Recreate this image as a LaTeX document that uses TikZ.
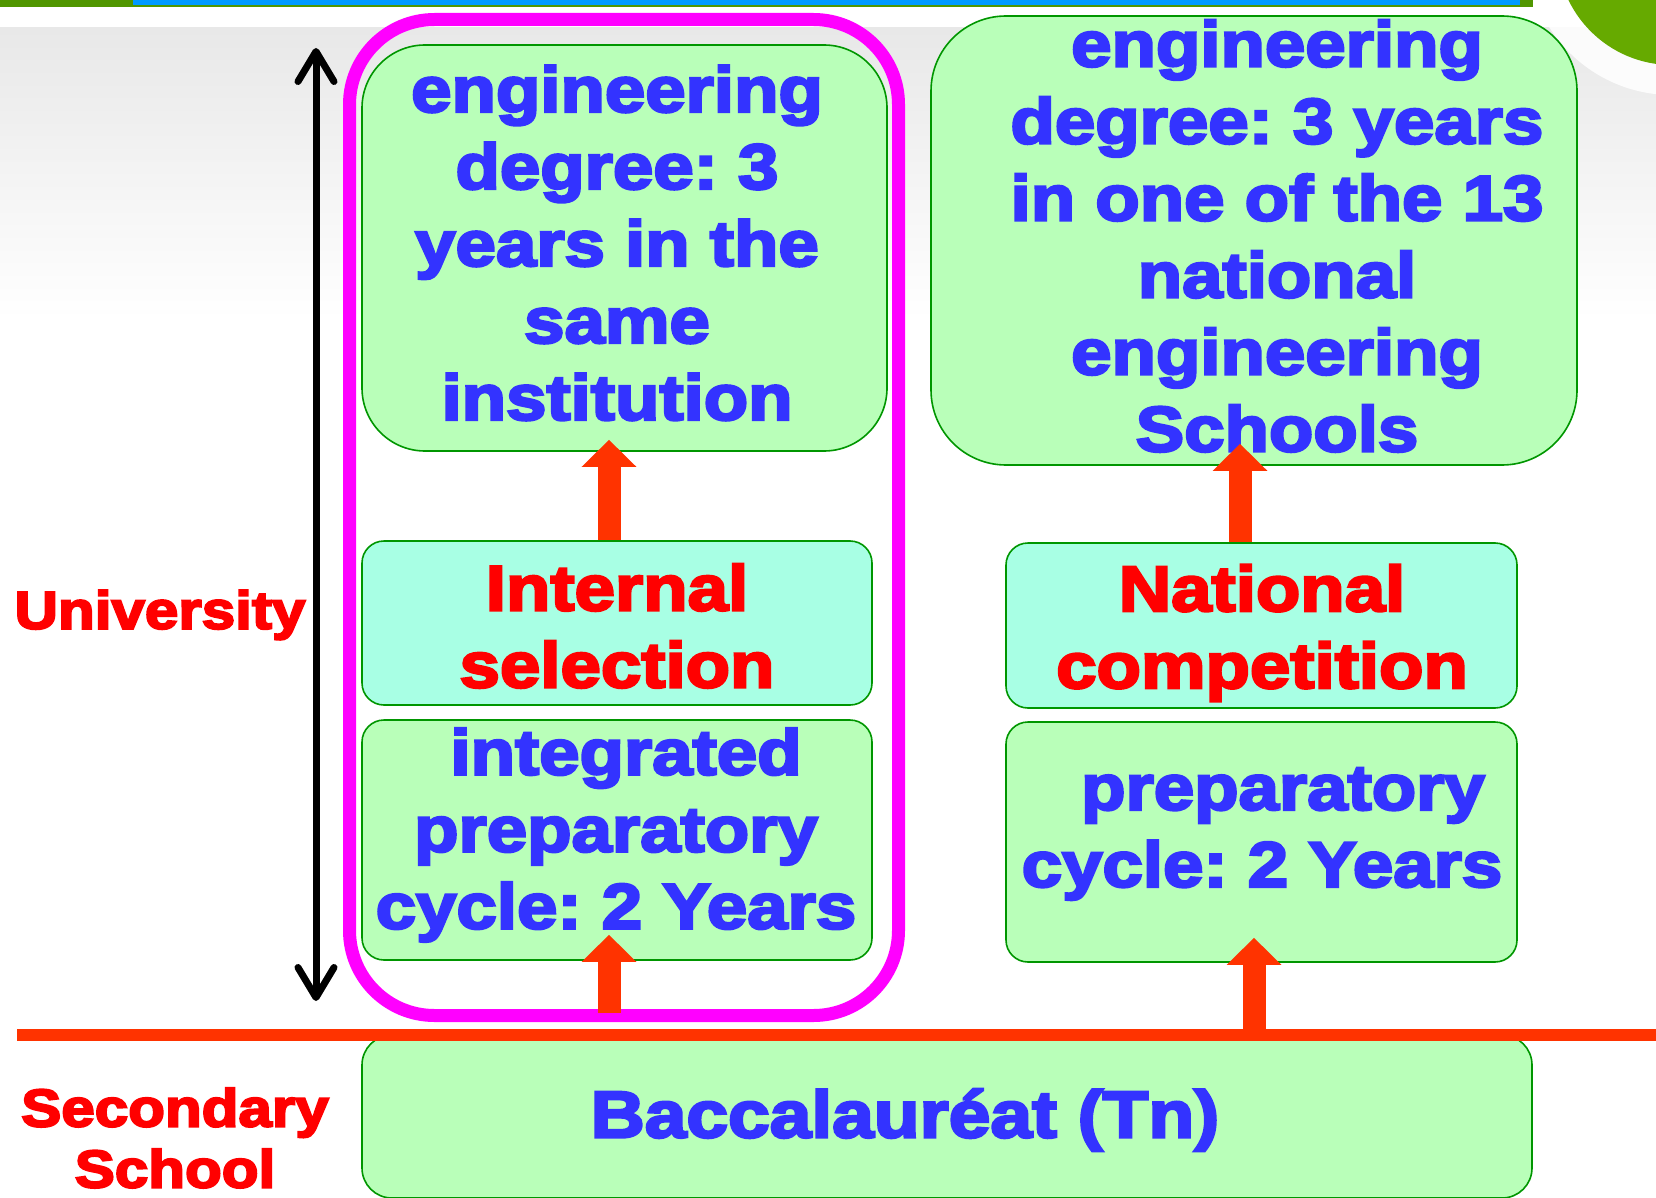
\documentclass[tikz,border=0pt]{standalone}
\usepackage{fontspec}
\setmainfont{Liberation Sans}[BoldFeatures={FakeStretch=1.135,FakeBold=4}]
\usetikzlibrary{arrows.meta}
\definecolor{boxgreen}{RGB}{185,255,185}
\definecolor{boxcyan}{RGB}{168,255,228}
\definecolor{bordergreen}{RGB}{0,150,0}
\definecolor{txtblue}{RGB}{51,51,255}
\definecolor{txtred}{RGB}{255,0,0}
\definecolor{arrowred}{RGB}{255,51,0}
\definecolor{magentaC}{RGB}{255,0,255}
\definecolor{bargreen}{RGB}{80,150,0}
\definecolor{barblue}{RGB}{0,153,255}
\definecolor{ballgreen}{RGB}{102,170,0}
\definecolor{bggray}{RGB}{232,232,232}
\tikzset{
  gbox/.style={draw=bordergreen, line width=1.6pt, fill=boxgreen, inner sep=0pt, rectangle},
  cbox/.style={gbox, fill=boxcyan},
  bluetxt/.style={text=txtblue, align=center, inner sep=0pt, font=\frenchspacing\bfseries\fontsize{64}{77}\selectfont},
  redtxt/.style={text=txtred, align=center, inner sep=0pt, font=\frenchspacing\bfseries\fontsize{64}{77}\selectfont},
  sidetxt/.style={text=txtred, align=center, inner sep=0pt, font=\frenchspacing\bfseries\fontsize{53}{61}\selectfont},
  fatarrow/.style={draw=arrowred, line width=23pt, -{Triangle[length=27pt,width=53pt]}},
  barbtip/.tip={Straight Barb[length=30pt,width=36pt,line cap=round,round]},
}
\begin{document}
\begin{tikzpicture}[x=1pt,y=-1pt]
\useasboundingbox (0,0) rectangle (1656,1198);
% background
\fill[white] (0,0) rectangle (1656,1198);
\shade[top color=bggray, bottom color=white] (0,28) rectangle (1656,320);
% top bar
\fill[bargreen] (0,0) rectangle (1533,7);
\fill[barblue] (133,0) rectangle (1520,5);
% corner ball
\fill[white, opacity=0.85] (1672,-50) circle (145);
\fill[ballgreen] (1672,-50) circle (115);

% magenta frame
\draw[magentaC, line width=13pt, rounded corners=85pt] (349.5,19.5) rectangle (898.5,1015.5);

% boxes
\node[gbox, rounded corners=63pt, minimum width=525pt, minimum height=406pt] (engL) at (624.5,248) {};
\node[cbox, rounded corners=22pt, minimum width=510pt, minimum height=164pt] (intsel) at (617,623) {};
\node[gbox, rounded corners=22pt, minimum width=510pt, minimum height=240pt] (prepL) at (617,840) {};
\node[gbox, rounded corners=75pt, minimum width=646pt, minimum height=449pt] (engR) at (1254,240.5) {};
\node[cbox, rounded corners=22pt, minimum width=511pt, minimum height=165pt] (natc) at (1261.5,625.5) {};
\node[gbox, rounded corners=22pt, minimum width=511pt, minimum height=240pt] (prepR) at (1261.5,842) {};
\node[gbox, rounded corners=30pt, minimum width=1170pt, minimum height=163pt] (bac) at (947,1116.5) {};

% texts
\node[bluetxt] (tengL) at (617,243) {engineering\\degree: 3\\years in the\\same\\institution};
\node[redtxt] (tintsel) at (617,626) {Internal\\selection};
\node[bluetxt] (tprepL) at (616,835) {\hspace*{20pt}integrated\\preparatory\\cycle: 2 Years};
\node[bluetxt] (tengR) at (1277,236) {engineering\\degree: 3 years\\in one of the 13\\national\\engineering\\Schools};
\node[redtxt] (tnatc) at (1262,633) {National\\competition};
\node[bluetxt] (tprepR) at (1262,834) {\hspace*{42pt}preparatory\\cycle: 2 Years};
\node[bluetxt, font=\frenchspacing\bfseries\fontsize{66}{77}\selectfont] (tbac) at (905,1120) {Baccalauréat (Tn)};
\node[sidetxt] (tuni) at (160,615) {University};
\node[sidetxt] (tsec) at (175,1138) {Secondary\\School};

% university span arrow
\coordinate (uniTop) at (316,48);
\coordinate (uniBot) at (316,1001);
\draw[line width=7pt, {barbtip}-{barbtip}] (uniTop) -- (uniBot);

% separating line
\coordinate (sepL) at (17,1035);
\coordinate (sepR) at (1656,1035);

% fat arrows
\coordinate (aL) at (609,1013);
\coordinate (aR) at (1254,1035);
\draw[fatarrow, shorten >=-26pt] (aL) -- (aL |- prepL.south);
\draw[fatarrow, shorten >=-12pt] ([xshift=-8pt]intsel.north) -- ([xshift=-8pt]intsel.north |- engL.south);
\draw[fatarrow, shorten >=-22pt] ([xshift=-21.5pt]natc.north) -- ([xshift=-21.5pt]natc.north |- engR.south);
\draw[fatarrow, shorten >=-25pt] (aR) -- (aR |- prepR.south);

\draw[arrowred, line width=12pt] (sepL) -- (sepR);
\end{tikzpicture}
\end{document}
